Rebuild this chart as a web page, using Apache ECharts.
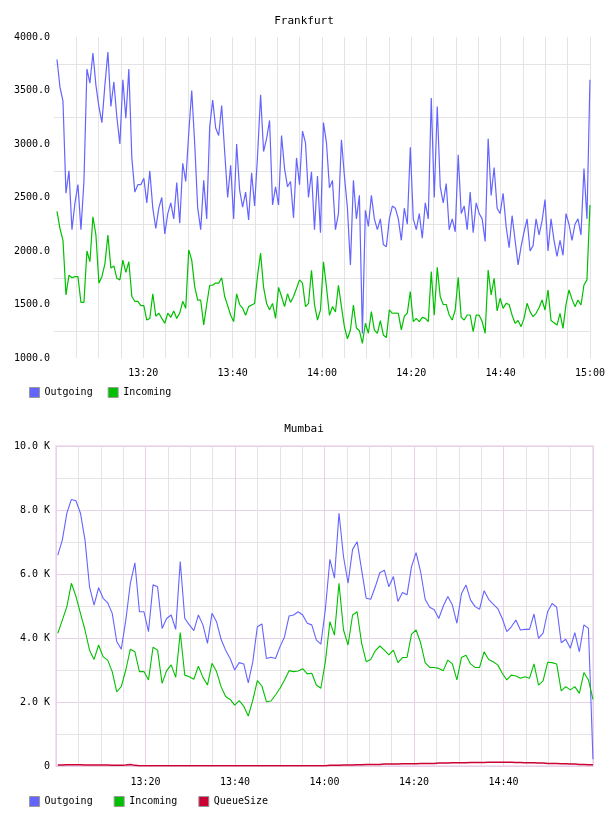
<!DOCTYPE html>
<html>
<head>
<meta charset="utf-8">
<title>Frankfurt / Mumbai</title>
<script src="https://cdn.jsdelivr.net/npm/echarts@6/dist/echarts.min.js"></script>
<style>
  html, body { margin: 0; padding: 0; background: #fff; }
  #chart { width: 608px; height: 816px; }
</style>
</head>
<body>
<div id="chart"></div>
<script>
// x values are minutes after 13:00
const frankStart = 0.67
const frankStep = 0.6704
const frankOutgoing = [
  3790, 3530, 3400, 2540, 2750, 2200, 2450, 2620, 2200, 2650,
  3700, 3570, 3850, 3550, 3350, 3200, 3550, 3860, 3350, 3580,
  3250, 3000, 3600, 3240, 3700, 2870, 2550, 2620, 2620, 2680,
  2450, 2750, 2400, 2210, 2400, 2500, 2160, 2350, 2450, 2300,
  2640, 2260, 2820, 2650, 3100, 3500, 3000, 2400, 2200, 2660,
  2300, 3160, 3410, 3150, 3080, 3360, 2930, 2500, 2800, 2300,
  3000, 2570, 2410, 2550, 2290, 2730, 2420, 2900, 3460, 2930,
  3050, 3220, 2430, 2600, 2430, 3080, 2770, 2600, 2650, 2310,
  2870, 2620, 3120, 3010, 2500, 2740, 2200, 2700, 2170, 3200,
  3010, 2590, 2660, 2200, 2350, 3040, 2700, 2400, 1870, 2660,
  2300, 2520, 1230, 2380, 2230, 2520, 2300, 2200, 2300, 2060,
  2040, 2300, 2420, 2400, 2300, 2100, 2400, 2250, 2970, 2300,
  2200, 2350, 2120, 2450, 2300, 3430, 2500, 3350, 2600, 2450,
  2630, 2200, 2300, 2180, 2900, 2350, 2420, 2200, 2550, 2170,
  2450, 2350, 2300, 2090, 3050, 2520, 2780, 2400, 2350, 2540,
  2230, 2030, 2330, 2100, 1870, 2040, 2180, 2300, 2000, 2050,
  2300, 2150, 2280, 2480, 2000, 2300, 2100, 1950, 2100, 1960,
  2350, 2250, 2100, 2250, 2300, 2150, 2770, 2300, 3600
]
const frankIncoming = [
  2370, 2210, 2100, 1590, 1775, 1750, 1760, 1760, 1520, 1520,
  2000, 1900, 2320, 2150, 1700, 1760, 1880, 2150, 1840, 1860,
  1745, 1730, 1915, 1800, 1900, 1575, 1530, 1530, 1490, 1490,
  1355, 1370, 1600, 1390, 1420, 1370, 1325, 1420, 1380, 1440,
  1370, 1420, 1530, 1465, 2010, 1915, 1665, 1540, 1540, 1310,
  1500, 1680, 1680, 1700, 1700, 1750, 1575, 1490, 1400, 1340,
  1600, 1500, 1465, 1400, 1480, 1495, 1510, 1775, 1980, 1660,
  1510, 1450, 1510, 1370, 1660, 1575, 1480, 1600, 1520, 1575,
  1650, 1730, 1700, 1480, 1510, 1820, 1500, 1355, 1450, 1900,
  1665, 1400, 1480, 1430, 1680, 1480, 1290, 1180, 1262, 1495,
  1280, 1255, 1137, 1325, 1231, 1433, 1260, 1231, 1350, 1215,
  1190, 1450, 1418, 1420, 1418, 1262, 1390, 1420, 1620, 1340,
  1370, 1340, 1380, 1370, 1340, 1807, 1400, 1847, 1573, 1500,
  1500, 1400, 1355, 1449, 1754, 1380, 1355, 1402, 1402, 1246,
  1402, 1400, 1340, 1231, 1822, 1589, 1745, 1440, 1558, 1464,
  1511, 1500, 1400, 1324, 1350, 1293, 1370, 1511, 1433, 1386,
  1418, 1470, 1542, 1449, 1636, 1350, 1330, 1308, 1418, 1277,
  1500, 1636, 1550, 1480, 1542, 1495, 1682, 1730, 2430
]

// Mumbai values in K
const mumStart = 0.4
const mumStep = 1.0135
const mumOutgoing = [
  6.59, 7.06, 7.9, 8.33, 8.29, 7.9, 7.06, 5.6, 5.03, 5.57,
  5.24, 5.1, 4.77, 3.89, 3.65, 4.56, 5.71, 6.35, 4.82, 4.82,
  4.2, 5.66, 5.6, 4.3, 4.61, 4.72, 4.27, 6.39, 4.61, 4.41,
  4.23, 4.72, 4.41, 3.83, 4.77, 4.51, 3.96, 3.62, 3.36, 3.0,
  3.23, 3.19, 2.6, 3.26, 4.35, 4.44, 3.36, 3.4, 3.36, 3.73,
  4.04, 4.69, 4.72, 4.82, 4.72, 4.46, 4.41, 3.94, 3.81, 4.9,
  6.46, 5.87, 7.9, 6.54, 5.71, 6.77, 7.01, 6.12, 5.24, 5.21,
  5.6, 6.04, 6.12, 5.6, 5.92, 5.14, 5.42, 5.35, 6.23, 6.67,
  6.07, 5.21, 4.96, 4.88, 4.61, 5.0, 5.3, 5.03, 4.46, 5.38,
  5.66, 5.19, 4.98, 4.9, 5.48, 5.21, 5.06, 4.92, 4.61, 4.2,
  4.35, 4.56, 4.25, 4.27, 4.27, 4.75, 3.99, 4.15, 4.82, 5.08,
  4.96, 3.85, 3.96, 3.68, 4.17, 3.57, 4.41, 4.3, 0.21
]
const mumIncoming = [
  4.15, 4.56, 4.98, 5.71, 5.3, 4.77, 4.25, 3.62, 3.33, 3.78,
  3.41, 3.31, 2.95, 2.32, 2.48, 3.0, 3.65, 3.57, 2.95, 2.95,
  2.69, 3.71, 3.62, 2.58, 2.98, 3.16, 2.77, 4.17, 2.84, 2.79,
  2.71, 3.12, 2.77, 2.53, 3.21, 2.95, 2.48, 2.17, 2.08, 1.9,
  2.04, 1.87, 1.56, 2.06, 2.67, 2.5, 2.01, 2.03, 2.22, 2.43,
  2.69, 2.98, 2.95, 2.97, 3.04, 2.88, 2.9, 2.53, 2.43, 3.26,
  4.51, 4.09, 5.71, 4.25, 3.78, 4.72, 4.82, 3.83, 3.26, 3.33,
  3.6, 3.75, 3.62, 3.47, 3.62, 3.23, 3.39, 3.39, 4.12, 4.25,
  3.85, 3.23, 3.08, 3.08, 3.05, 2.98, 3.31, 3.19, 2.69, 3.39,
  3.46, 3.19, 3.08, 3.08, 3.57, 3.33, 3.26, 3.16, 2.9, 2.69,
  2.84, 2.81, 2.74, 2.79, 2.74, 3.19, 2.53, 2.66, 3.24, 3.23,
  3.19, 2.35, 2.48, 2.38, 2.48, 2.27, 2.92, 2.69, 2.08
]
const mumQueue = [
  0.03, 0.03, 0.04, 0.04, 0.04, 0.04, 0.03, 0.03, 0.03, 0.03,
  0.03, 0.03, 0.02, 0.02, 0.02, 0.03, 0.05, 0.02, 0.01, 0.01,
  0.01, 0.01, 0.01, 0.01, 0.01, 0.01, 0.01, 0.01, 0.01, 0.01,
  0.01, 0.01, 0.01, 0.01, 0.01, 0.01, 0.01, 0.01, 0.01, 0.01,
  0.01, 0.01, 0.01, 0.01, 0.01, 0.01, 0.01, 0.01, 0.01, 0.01,
  0.01, 0.01, 0.01, 0.01, 0.01, 0.01, 0.01, 0.01, 0.01, 0.01,
  0.02, 0.02, 0.02, 0.03, 0.03, 0.03, 0.04, 0.04, 0.05, 0.05,
  0.05, 0.05, 0.06, 0.06, 0.06, 0.06, 0.07, 0.07, 0.07, 0.07,
  0.08, 0.08, 0.08, 0.08, 0.09, 0.09, 0.09, 0.1, 0.1, 0.1,
  0.1, 0.11, 0.11, 0.11, 0.11, 0.12, 0.12, 0.12, 0.12, 0.12,
  0.12, 0.11, 0.11, 0.1, 0.1, 0.1, 0.09, 0.09, 0.08, 0.08,
  0.08, 0.07, 0.07, 0.06, 0.06, 0.05, 0.05, 0.04, 0.04
]

const FONT = 'DejaVu Sans Mono'
const BLUE = '#6464ff'
const GREEN = '#00c000'
const RED = '#cc0033'
const GREY = '#e4e4e4'
const PURPLE = '#e8d0e8'

const pairs = (vals, start, step) => vals.map((v, i) => [start + i * step, v])

const fmtTime = (v) => {
  const m = Math.round(v)
  const h = 13 + Math.floor(m / 60)
  const mm = m % 60
  return h + ':' + (mm < 10 ? '0' : '') + mm
}

const labelStyle = { color: '#000', fontFamily: FONT, fontSize: 10 }

const lineSeries = (name, data, color, xi, width) => ({
  name: name,
  type: 'line',
  xAxisIndex: xi,
  yAxisIndex: xi,
  data: data,
  showSymbol: false,
  symbol: 'none',
  color: color,
  lineStyle: { color: color, width: width },
  emphasis: { disabled: true }
})

const chart = echarts.init(document.getElementById('chart'))
chart.setOption({
  animation: false,
  backgroundColor: '#fff',
  title: [
    { text: 'Frankfurt', left: 'center', top: 11,
      textStyle: { fontFamily: FONT, fontSize: 11, fontWeight: 'normal', color: '#000' } },
    { text: 'Mumbai', left: 'center', top: 419,
      textStyle: { fontFamily: FONT, fontSize: 11, fontWeight: 'normal', color: '#000' } }
  ],
  legend: [
    { left: 24, top: 382, icon: 'rect', itemWidth: 10, itemHeight: 10, itemGap: 15,
      data: ['Outgoing', 'Incoming'],
      itemStyle: { borderColor: '#999', borderWidth: 1 },
      textStyle: labelStyle, selectedMode: false },
    { left: 24, top: 791, icon: 'rect', itemWidth: 10, itemHeight: 10, itemGap: 21,
      data: ['Outgoing', 'Incoming', 'QueueSize'],
      itemStyle: { borderColor: '#999', borderWidth: 1 },
      textStyle: labelStyle, selectedMode: false }
  ],
  grid: [
    { left: 54, top: 37, width: 538, height: 321 },
    { left: 56, top: 446, width: 537, height: 320, show: true,
      borderColor: '#f2e2f2', borderWidth: 2, backgroundColor: 'transparent' }
  ],
  xAxis: [
    {
      gridIndex: 0, type: 'value', min: 0, max: 120, interval: 20,
      axisLine: { show: false }, axisTick: { show: false },
      axisLabel: Object.assign({ formatter: fmtTime, showMinLabel: false, margin: 10 }, labelStyle),
      splitLine: { show: true, showMinLine: false, lineStyle: { color: GREY, width: 1 } },
      minorTick: { show: false, splitNumber: 4 },
      minorSplitLine: { show: true, lineStyle: { color: GREY, width: 1 } }
    },
    {
      gridIndex: 1, type: 'value', min: 0, max: 120, interval: 20,
      axisLine: { show: false }, axisTick: { show: false },
      axisLabel: Object.assign({
        formatter: (v) => (v > 0 && v < 120 ? fmtTime(v) : ''),
        showMinLabel: false, showMaxLabel: false, margin: 11
      }, labelStyle),
      splitLine: { show: true, lineStyle: { color: PURPLE, width: 1 } },
      minorTick: { show: false, splitNumber: 4 },
      minorSplitLine: { show: true, lineStyle: { color: GREY, width: 1 } }
    }
  ],
  yAxis: [
    {
      gridIndex: 0, type: 'value', min: 1000, max: 4000, interval: 500,
      axisLine: { show: false }, axisTick: { show: false },
      axisLabel: Object.assign({ formatter: (v) => v.toFixed(1), margin: 4 }, labelStyle),
      splitLine: { show: false },
      minorTick: { show: false, splitNumber: 2 },
      minorSplitLine: { show: true, lineStyle: { color: GREY, width: 1 } }
    },
    {
      gridIndex: 1, type: 'value', min: 0, max: 10, interval: 2,
      axisLine: { show: false }, axisTick: { show: false },
      axisLabel: Object.assign({
        formatter: (v) => (v === 0 ? '0' : v.toFixed(1) + ' K'), margin: 6
      }, labelStyle),
      splitLine: { show: true, lineStyle: { color: PURPLE, width: 1 } },
      minorTick: { show: false, splitNumber: 2 },
      minorSplitLine: { show: true, lineStyle: { color: GREY, width: 1 } }
    }
  ],
  series: [
    lineSeries('Outgoing', pairs(frankOutgoing, frankStart, frankStep), BLUE, 0, 1.2),
    lineSeries('Incoming', pairs(frankIncoming, frankStart, frankStep), GREEN, 0, 1.2),
    lineSeries('Outgoing', pairs(mumOutgoing, mumStart, mumStep), BLUE, 1, 1.1),
    lineSeries('Incoming', pairs(mumIncoming, mumStart, mumStep), GREEN, 1, 1.1),
    lineSeries('QueueSize', pairs(mumQueue, mumStart, mumStep), RED, 1, 1.5)
  ]
})
</script>
</body>
</html>
